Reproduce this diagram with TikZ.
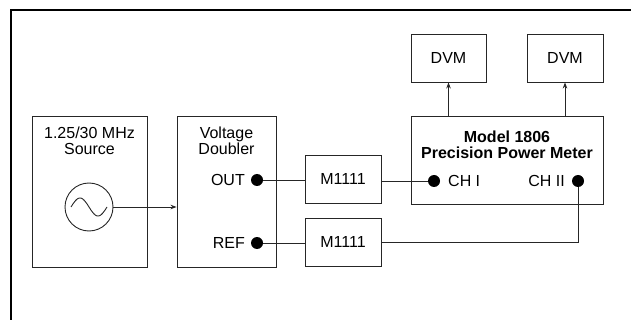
\documentclass[tikz,border=0pt]{standalone}
\usepackage{fontspec}
\setmainfont{Liberation Sans}
\usetikzlibrary{arrows.meta}
\begin{document}
\begin{tikzpicture}[x=1pt, y=-1pt,
    box/.style = {rectangle, draw=black!85, line width=0.9pt, inner sep=0pt, font=\fontsize{16}{16}\selectfont},
    lbl/.style = {font=\fontsize{16}{16}\selectfont, inner sep=0pt, align=center},
    pin/.style = {circle, fill=black, minimum size=12pt, inner sep=0pt},
    wire/.style = {draw=black!85, line width=0.9pt},
    arrow/.style = {wire, -{Stealth[length=6pt, width=4.5pt]}}
]
    \useasboundingbox (0,0) rectangle (631,320);
    \clip (0,0) rectangle (631,320);
    \draw[line width=1.1pt] (11,330) |- (640,10);

    % blocks
    \node[box, minimum width=115pt, minimum height=151pt] (src) at (89.5,191.5) {};
    \node[box, minimum width=99pt, minimum height=151pt] (dbl) at (226.5,191.5) {};
    \node[box, minimum width=76pt, minimum height=48pt] (m1) at (343,179) {M1111};
    \node[box, minimum width=76pt, minimum height=48pt] (m2) at (343,242) {M1111};
    \node[box, minimum width=192pt, minimum height=88pt] (meter) at (507,160) {};
    \node[box, minimum width=75pt, minimum height=48pt] (dvm1) at (448.5,58) {DVM};
    \node[box, minimum width=76pt, minimum height=48pt] (dvm2) at (565,58) {DVM};

    % texts
    \node[lbl] (srctxt) at (89.5,140.5) {1.25/30 MHz\\Source};
    \node[lbl] (dbltxt) at (226.5,140.5) {Voltage\\Doubler};
    \node[lbl, font=\fontsize{16}{16}\selectfont\bfseries] (metertxt) at (507,145) {Model 1806\\Precision Power Meter};
    \node[lbl, anchor=east] (outtxt) at (245,180) {OUT};
    \node[lbl, anchor=east] (reftxt) at (245,243) {REF};
    \node[lbl, anchor=west] (ch1txt) at (448,181) {CH I};
    \node[lbl, anchor=east] (ch2txt) at (565,181) {CH II};

    % oscillator
    \node[circle, draw=black!85, line width=0.9pt, minimum size=48pt, inner sep=0pt] (osc) at (89,207) {};
    \draw[wire, shift={(89,207)}, domain=-18:18, samples=40, smooth] plot (\x, {9*sin(\x/18*180)});

    % connectors
    \node[pin] (outpin) at (257,180) {};
    \node[pin] (refpin) at (257,243) {};
    \node[pin] (ch1) at (434,181) {};
    \node[pin] (ch2) at (578,181) {};

    \path[arrow] (osc) -- (dbl.west |- osc);
    \path[wire] (outpin) -- (outpin -| m1.west);
    \path[wire] (m1.east |- ch1) -- (ch1);
    \path[wire] (refpin) -- (refpin -| m2.west);
    \path[wire] (m2.east) -| (ch2);
    \path[arrow] (dvm1.south |- meter.north) -- (dvm1.south);
    \path[arrow] (dvm2.south |- meter.north) -- (dvm2.south);
\end{tikzpicture}
\end{document}
